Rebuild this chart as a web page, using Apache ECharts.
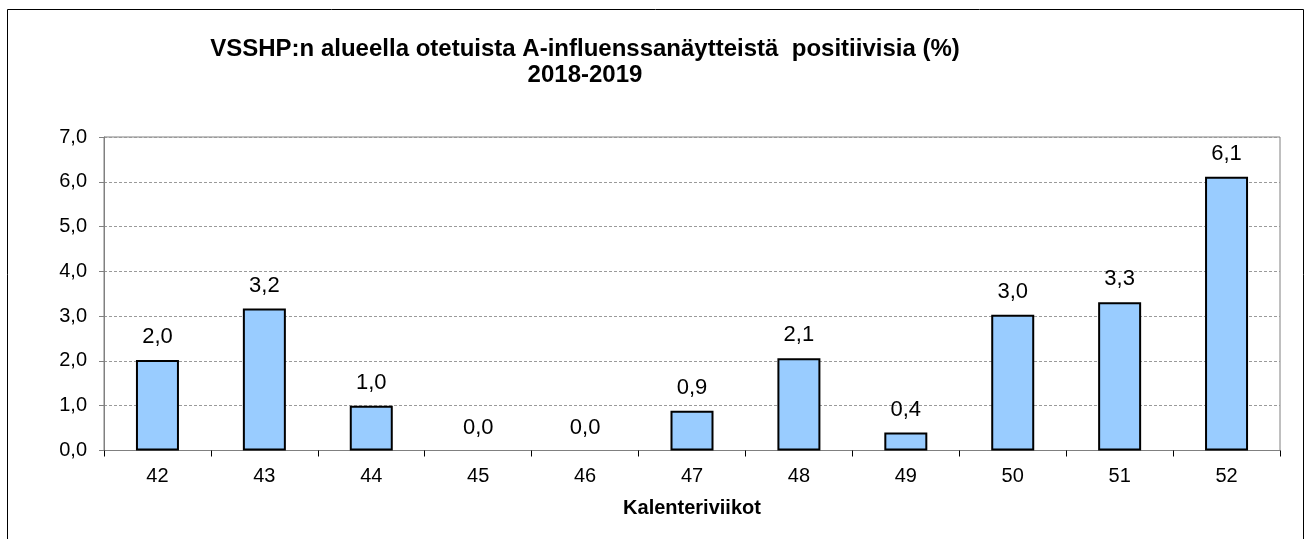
<!DOCTYPE html>
<html>
<head>
<meta charset="utf-8">
<script src="https://cdn.jsdelivr.net/npm/echarts@6/dist/echarts.min.js"></script>
<style>
  html, body { margin: 0; padding: 0; background: #fff; }
  #chart { width: 1310px; height: 539px; }
</style>
</head>
<body>
<div id="chart"></div>
<script>
var weeks = ['42', '43', '44', '45', '46', '47', '48', '49', '50', '51', '52'];
var positivePct = [2.02, 3.17, 1.0, 0.0, 0.0, 0.89, 2.06, 0.4, 3.03, 3.31, 6.11];
var titleLines = ['VSSHP:n alueella otetuista A-influenssanäytteistä  positiivisia (%)', '2018-2019'];

function fiNum(v) {
    return (Math.round(v * 10) / 10).toFixed(1).replace('.', ',');
}

var myChart = echarts.init(document.getElementById('chart'));
var font = 'Liberation Sans, Arial, sans-serif';

// zero bars have no visible outline in the original
var barData = positivePct.map(function (v) {
    return v === 0 ? { value: v, itemStyle: { borderWidth: 0 } } : v;
});

var option = {
    animation: false,
    backgroundColor: '#fff',
    graphic: [{
        type: 'rect',
        shape: { x: 7.5, y: 9.5, width: 1296, height: 540 },
        style: { fill: 'none', stroke: '#000', lineWidth: 1 },
        z: -1
    }],
    title: {
        text: titleLines.join('\n'),
        left: 580,
        top: 31,
        textAlign: 'center',
        textStyle: {
            fontFamily: font,
            fontSize: 24,
            fontWeight: 'bold',
            color: '#000',
            lineHeight: 26
        }
    },
    grid: {
        left: 104,
        right: 30,
        top: 137,
        bottom: 88.5,
        show: true,
        borderColor: '#808080',
        borderWidth: 1,
        backgroundColor: 'transparent'
    },
    xAxis: {
        type: 'category',
        data: weeks,
        name: 'Kalenteriviikot',
        nameLocation: 'middle',
        nameGap: 48,
        nameTextStyle: {
            fontFamily: font,
            fontSize: 20,
            fontWeight: 'bold',
            color: '#000'
        },
        axisLine: { lineStyle: { color: '#808080', width: 1 } },
        axisTick: { show: true, length: 6, lineStyle: { color: '#000' } },
        axisLabel: {
            fontFamily: font,
            fontSize: 20,
            color: '#000',
            margin: 16
        }
    },
    yAxis: {
        type: 'value',
        min: 0,
        max: 7,
        interval: 1,
        axisLine: { show: true, lineStyle: { color: '#808080', width: 1 } },
        axisTick: { show: true, length: 5, lineStyle: { color: '#808080' } },
        axisLabel: {
            fontFamily: font,
            fontSize: 20,
            color: '#000',
            margin: 17,
            formatter: function (v) { return fiNum(v); }
        },
        splitLine: {
            show: true,
            lineStyle: { color: '#9a9a9a', type: [3, 2], width: 1 }
        }
    },
    series: [{
        type: 'bar',
        data: barData,
        barWidth: 43,
        itemStyle: {
            color: '#99ccff',
            borderColor: '#000',
            borderWidth: 2
        },
        label: {
            show: true,
            position: 'top',
            distance: 12,
            fontFamily: font,
            fontSize: 22,
            color: '#000',
            formatter: function (p) { return fiNum(p.value); }
        }
    }]
};

myChart.setOption(option);

window.addEventListener('resize', function () {
    myChart.resize();
});
</script>
</body>
</html>
